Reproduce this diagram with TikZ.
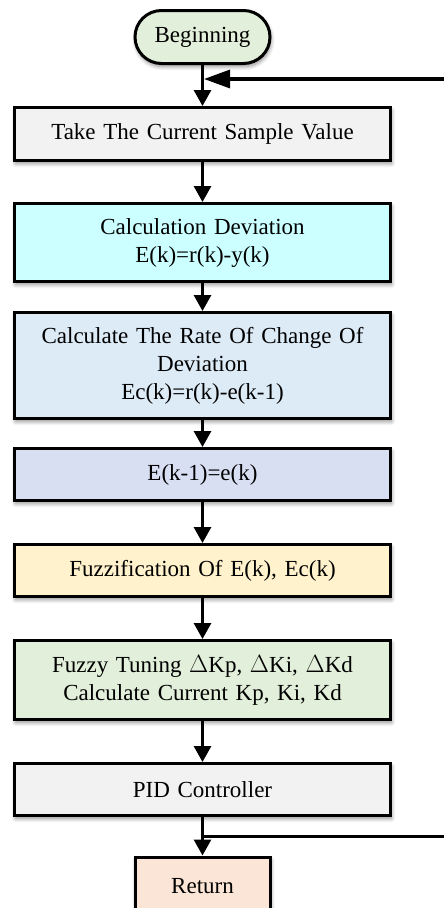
\documentclass[tikz,border=0pt]{standalone}
\usepackage{fontspec}
\setmainfont{Liberation Serif}
\usetikzlibrary{arrows.meta,shapes.misc,shadows.blur}

\definecolor{startfill}{HTML}{E2EFDA}
\definecolor{greyfill}{HTML}{F2F2F2}
\definecolor{cyanfill}{HTML}{CCFFFF}
\definecolor{bluefill}{HTML}{DDEBF7}
\definecolor{lavfill}{HTML}{D9DFF3}
\definecolor{yellowfill}{HTML}{FFF2CC}
\definecolor{greenfill}{HTML}{E2EFDA}
\definecolor{peachfill}{HTML}{FBE5D6}
\definecolor{shadowblue}{HTML}{9DC3E6}

\begin{document}
\begin{tikzpicture}[x=1pt,y=-1pt,
  boxshadow/.style={blur shadow={shadow xshift=1pt,shadow yshift=-3pt,
      shadow blur radius=4pt,shadow opacity=45,shadow blur steps=8,
      every shadow/.style={fill=shadowblue}}},
  boxfont/.style={font=\fontsize{23}{28}\selectfont},
  stepbox/.style={draw=black,line width=3pt,minimum width=376pt,
      text width=370pt,align=center,inner sep=0pt,boxfont,boxshadow},
  endbox/.style={draw=black,line width=3pt,minimum width=135pt,
      minimum height=53pt,align=center,inner sep=0pt,boxfont,boxshadow},
  flow/.style={line width=3pt,-{Triangle[width=17pt,length=16pt]}},
  back/.style={line width=3.2pt,-{Triangle[width=18pt,length=26pt]}},
  loopline/.style={line width=3.4pt}]
\useasboundingbox (0,0) rectangle (444,908);

% terminal and process blocks
\node[endbox,rounded rectangle,fill=startfill] (start) at (202.5,37) {Beginning};
\node[stepbox,fill=greyfill,minimum height=53pt] (b1) at (202.5,134) {Take The Current Sample Value};
\node[stepbox,fill=cyanfill,minimum height=78pt] (b2) at (202.5,242.5) {Calculation Deviation\\E(k)=r(k)-y(k)};
\node[stepbox,fill=bluefill,minimum height=106pt] (b3) at (202.5,365.5) {Calculate The Rate Of Change Of\\Deviation\\Ec(k)=r(k)-e(k-1)};
\node[stepbox,fill=lavfill,minimum height=52pt] (b4) at (202.5,474.5) {E(k-1)=e(k)};
\node[stepbox,fill=yellowfill,minimum height=52pt] (b5) at (202.5,570.5) {Fuzzification Of E(k), Ec(k)};
\node[stepbox,fill=greenfill,minimum height=79pt] (b6) at (202.5,680) {Fuzzy Tuning \(\Delta\)Kp, \(\Delta\)Ki, \(\Delta\)Kd\\Calculate Current Kp, Ki, Kd};
\node[stepbox,fill=greyfill,minimum height=52pt] (b7) at (202.5,789.5) {PID Controller};
\node[endbox,fill=peachfill,minimum height=80pt] (ret) at (202.5,897) {};
\node[boxfont] (rettext) at (202.5,886) {Return};

% main flow
\draw[flow] (start) -- (b1);
\draw[flow] (b1) -- (b2);
\draw[flow] (b2) -- (b3);
\draw[flow] (b3) -- (b4);
\draw[flow] (b4) -- (b5);
\draw[flow] (b5) -- (b6);
\draw[flow] (b6) -- (b7);
\draw[flow] (b7) -- (ret);

% loop back to the sampling step
\coordinate (loopin) at (446,79);
\coordinate (loopout) at (446,836.5);
\draw[loopline] (b7.south |- loopout) -- (loopout);
\draw[back,shorten >=1.5pt] (loopin) -- (start.south |- loopin);
\end{tikzpicture}
\end{document}
